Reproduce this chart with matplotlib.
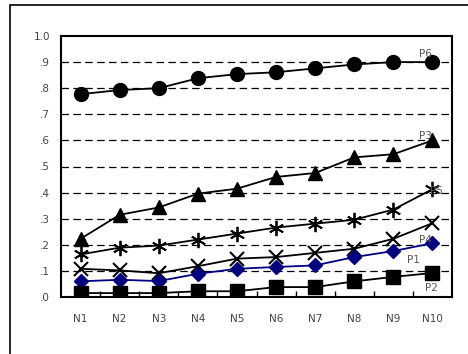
import numpy as np
import matplotlib
matplotlib.use('Agg')
import matplotlib.pyplot as plt
from matplotlib.patches import Rectangle

# 数据
categories = ['N1', 'N2', 'N3', 'N4', 'N5', 'N6', 'N7', 'N8', 'N9', 'N10']
p6 = [0.777, 0.793, 0.800, 0.838, 0.854, 0.861, 0.876, 0.891, 0.900, 0.900]
p3 = [0.223, 0.315, 0.343, 0.396, 0.415, 0.460, 0.475, 0.535, 0.547, 0.600]
p5 = [0.163, 0.189, 0.197, 0.220, 0.243, 0.266, 0.281, 0.296, 0.335, 0.413]
p4 = [0.108, 0.102, 0.091, 0.118, 0.147, 0.153, 0.169, 0.185, 0.223, 0.283]
p1 = [0.060, 0.066, 0.061, 0.089, 0.108, 0.115, 0.121, 0.153, 0.176, 0.206]
p2 = [0.015, 0.015, 0.015, 0.022, 0.022, 0.038, 0.038, 0.060, 0.077, 0.092]
y_ticks = [0.0, 0.1, 0.2, 0.3, 0.4, 0.5, 0.6, 0.7, 0.8, 0.9, 1.0]
y_labels = ['.0', '.1', '.2', '.3', '.4', '.5', '.6', '.7', '.8', '.9', '1.0']

fig = plt.figure(figsize=(4.68, 3.54), dpi=100)
ax = fig.add_axes([61/468, 1-297/354, (452-61)/468, (297-36)/354])

# 外框
fig.patches.append(Rectangle((10/468, -0.1), 1.2, 1-5/354+0.1, transform=fig.transFigure,
                             fill=False, edgecolor='black', linewidth=1.2))

x = np.arange(len(categories))
ax.plot(x, p6, color='black', lw=1.3, marker='o', ms=10, zorder=3)
ax.plot(x, p3, color='black', lw=1.3, marker='^', ms=10, zorder=3)
ax.plot(x, p5, color='black', lw=1.3, marker=(6, 2, 0), ms=11, mew=1.3, zorder=3)
ax.plot(x, p4, color='black', lw=1.3, marker='x', ms=10, mew=1.5, zorder=3)
ax.plot(x, p1, color='#000080', lw=1.3, marker='D', ms=7, zorder=3)
ax.plot(x, p2, color='black', lw=1.3, marker='s', ms=10, zorder=3)

# 系列标签
lab = dict(color='#555555', fontsize=7.5)
ax.text(8.65, p6[9] + 0.02, 'P6', **lab)
ax.text(8.65, p3[9] + 0.005, 'P3', **lab)
ax.text(8.95, p5[9] - 0.02, 'P5', **lab)
ax.text(8.65, p4[9] - 0.075, 'P4', **lab)
ax.text(8.35, p1[9] - 0.075, 'P1', **lab)
ax.text(8.8, p2[9] - 0.07, 'P2', **lab)

ax.set_xlim(-0.5, 9.5)
ax.set_ylim(0, 1.0)
ax.set_xticks(x)
ax.set_xticklabels(categories, color='#444444', fontsize=7.5)
ax.set_xticks(np.arange(0.5, 9.5, 1), minor=True)
ax.tick_params(axis='x', which='major', length=0, pad=12)
ax.tick_params(axis='x', which='minor', direction='in', length=4, width=1)
ax.set_yticks(y_ticks)
ax.set_yticklabels(y_labels, color='#444444', fontsize=7.5)
ax.tick_params(axis='y', length=0, pad=8)
for t in y_ticks[1:-1]:
    ax.axhline(t, color='black', lw=0.9, dashes=(6, 3.5), zorder=1)
for s in ax.spines.values():
    s.set_linewidth(1.5)

fig.savefig('out.png', dpi=100)
